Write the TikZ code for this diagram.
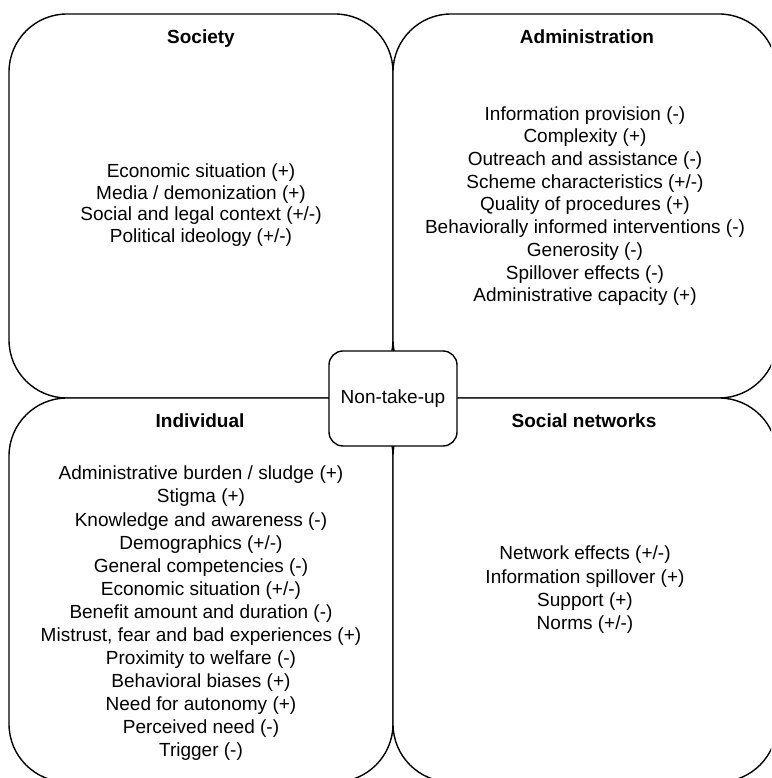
\documentclass[tikz,border=0pt]{standalone}
\usepackage{fontspec}
\setmainfont{Liberation Sans}
\begin{document}
\begin{tikzpicture}[x=1pt,y=1pt,
  quad/.style={draw, line width=1.4pt, rounded corners=58pt, minimum width=384pt, minimum height=384pt, inner sep=0pt, fill=white},
  title/.style={font=\fontsize{19}{23}\selectfont\bfseries, anchor=base, inner sep=0pt},
  items/.style={align=center, inner sep=0pt},
  hub/.style={draw, line width=1.4pt, rounded corners=14pt, minimum width=128pt, minimum height=95pt, fill=white, font=\fontsize{19}{23}\selectfont}]
\useasboundingbox (0,0) rectangle (771,778);
\clip (0,0) rectangle (771,778);
\node[quad] (soc) at (201,572) {};
\node[quad] (adm) at (585,572) {};
\node[quad] (ind) at (201,188) {};
\node[quad] (net) at (585,188) {};
\node[hub] (nt) at (393,379.5) {Non-take-up};
\node[title] (soct) at (201,734.7) {Society};
\node[title] (admt) at (587,734.7) {Administration};
\node[title] (indt) at (200,350.7) {Individual};
\node[title] (nett) at (584,350.7) {Social networks};
\node[items, font=\fontsize{19}{21.5}\selectfont] (soci) at (201,573) {Economic situation (+)\\Media / demonization (+)\\Social and legal context (+/-)\\Political ideology (+/-)};
\node[items, font=\fontsize{19}{22.7}\selectfont] (admi) at (585,572) {Information provision (-)\\Complexity (+)\\Outreach and assistance (-)\\Scheme characteristics (+/-)\\Quality of procedures (+)\\Behaviorally informed interventions (-)\\Generosity (-)\\Spillover effects (-)\\Administrative capacity (+)};
\node[items, font=\fontsize{19}{23.05}\selectfont] (indi) at (201,164.7) {Administrative burden / sludge (+)\\Stigma (+)\\Knowledge and awareness (-)\\Demographics (+/-)\\General competencies (-)\\Economic situation (+/-)\\Benefit amount and duration (-)\\Mistrust, fear and bad experiences (+)\\Proximity to welfare (-)\\Behavioral biases (+)\\Need for autonomy (+)\\Perceived need (-)\\Trigger (-)};
\node[items, font=\fontsize{19}{23.3}\selectfont] (neti) at (585,188) {Network effects (+/-)\\Information spillover (+)\\Support (+)\\Norms (+/-)};
\end{tikzpicture}
\end{document}
